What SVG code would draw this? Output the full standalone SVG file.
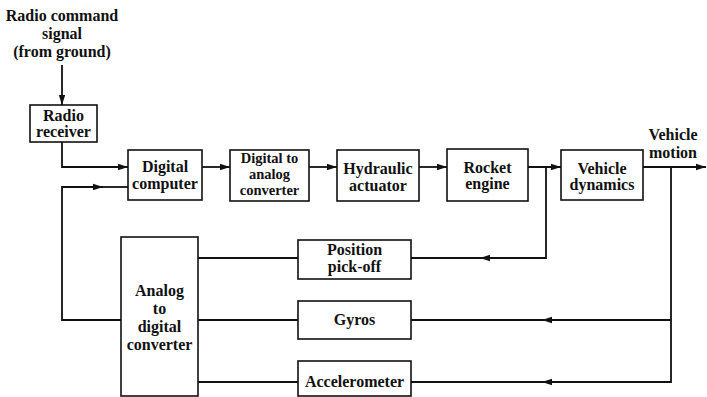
<svg xmlns="http://www.w3.org/2000/svg" width="707" height="397" viewBox="0 0 707 397">
<style>
.box{fill:#fff;stroke:#111;stroke-width:1.6}
.ln{fill:none;stroke:#111;stroke-width:1.8}
text{font-family:"Liberation Serif","Times New Roman",serif;font-weight:bold;font-size:16px;fill:#111;text-anchor:middle}
.sm{font-size:14.5px}
</style>
<defs>
<marker id="ah" viewBox="0 0 10 8" refX="10" refY="4" markerWidth="10" markerHeight="8" markerUnits="userSpaceOnUse" orient="auto">
<path d="M0,0.8 L10,4 L0,7.2 Z" fill="#111"/>
</marker>
</defs>
<rect width="707" height="397" fill="#fff"/>
<text x="62" y="21">Radio command</text>
<text x="62" y="39">signal</text>
<text x="62" y="57">(from ground)</text>
<text x="673" y="140">Vehicle</text>
<text x="673" y="158">motion</text>
<g id="connectors">
<path class="ln" d="M62,65 V105" marker-end="url(#ah)"/>
<path class="ln" d="M62,142 V167 H128" marker-end="url(#ah)"/>
<path class="ln" d="M121,320 H62 V187 H103" marker-end="url(#ah)"/>
<path class="ln" d="M100,187 H128"/>
<path class="ln" d="M202,167 H230" marker-end="url(#ah)"/>
<path class="ln" d="M309,167 H337" marker-end="url(#ah)"/>
<path class="ln" d="M419,167 H447" marker-end="url(#ah)"/>
<path class="ln" d="M528,167 H561" marker-end="url(#ah)"/>
<path class="ln" d="M643,167 H706" marker-end="url(#ah)"/>
<path class="ln" d="M546,167 V258 H480" marker-end="url(#ah)"/>
<path class="ln" d="M483,258 H411"/>
<path class="ln" d="M671,167 V382 H542" marker-end="url(#ah)"/>
<path class="ln" d="M545,382 H411"/>
<path class="ln" d="M671,320 H542" marker-end="url(#ah)"/>
<path class="ln" d="M545,320 H411"/>
<path class="ln" d="M298,258 H198"/>
<path class="ln" d="M298,320 H198"/>
<path class="ln" d="M298,382 H198"/>
</g>
<g id="radio-receiver">
<rect class="box" x="30" y="105" width="67" height="37"/>
<text x="63.5" y="121">Radio</text>
<text x="63.5" y="137">receiver</text>
</g>
<g id="digital-computer">
<rect class="box" x="128" y="150" width="74" height="50"/>
<text x="165" y="172">Digital</text>
<text x="165" y="189">computer</text>
</g>
<g id="da-converter">
<rect class="box" x="230" y="150" width="79" height="51"/>
<text class="sm" x="269.5" y="163">Digital to</text>
<text class="sm" x="269.5" y="179">analog</text>
<text class="sm" x="269.5" y="195">converter</text>
</g>
<g id="hydraulic-actuator">
<rect class="box" x="337" y="150" width="82" height="51"/>
<text x="378" y="174">Hydraulic</text>
<text x="378" y="191">actuator</text>
</g>
<g id="rocket-engine">
<rect class="box" x="447" y="149" width="81" height="52"/>
<text x="487.5" y="173">Rocket</text>
<text x="487.5" y="189">engine</text>
</g>
<g id="vehicle-dynamics">
<rect class="box" x="561" y="150" width="82" height="50"/>
<text x="602" y="174">Vehicle</text>
<text x="602" y="190">dynamics</text>
</g>
<g id="ad-converter">
<rect class="box" x="121" y="237" width="77" height="159"/>
<text x="159.5" y="296">Analog</text>
<text x="159.5" y="314">to</text>
<text x="159.5" y="332">digital</text>
<text x="159.5" y="350">converter</text>
</g>
<g id="position-pickoff">
<rect class="box" x="298" y="240" width="113" height="39"/>
<text x="354.5" y="255">Position</text>
<text x="354.5" y="272">pick-off</text>
</g>
<g id="gyros">
<rect class="box" x="298" y="301" width="113" height="38"/>
<text x="354.5" y="325">Gyros</text>
</g>
<g id="accelerometer">
<rect class="box" x="298" y="361" width="113" height="35"/>
<text x="354.5" y="387">Accelerometer</text>
</g>
</svg>
